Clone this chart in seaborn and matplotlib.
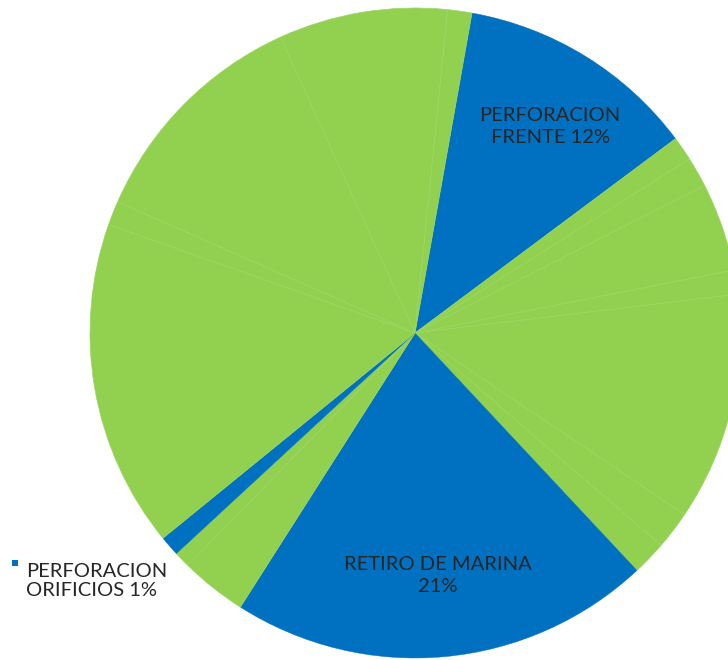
import numpy as np
import matplotlib
matplotlib.use("Agg")
import matplotlib.pyplot as plt
import seaborn as sns

# Share of each activity in the cycle (percent), clockwise from the top
activities = [
    "PERFORACION FRENTE", "g1", "g2", "g3", "g4", "g5", "g6", "g7",
    "RETIRO DE MARINA", "g8", "g9", "PERFORACION ORIFICIOS",
    "g10", "g11", "g12", "g13", "g14",
]
shares = [12, 1.2, 1.5, 4.4, 1.2, 11.35, 1.9, 1.7,
          21, 3.3, 0.8, 1,
          16.3, 1.2, 11.6, 8.4, 1.2]
highlighted = ["PERFORACION FRENTE", "RETIRO DE MARINA", "PERFORACION ORIFICIOS"]

BLUE = "#0070C0"
GREEN = "#92D050"
TEXT = "#262626"

sns.set_theme(style="white")
plt.rcParams["font.family"] = ["Lato", "DejaVu Sans"]

fig = plt.figure(figsize=(7.28, 6.6), dpi=100)
ax = fig.add_axes([0, 0, 1, 1])

colors = [BLUE if a in highlighted else GREEN for a in activities]
wedges, _ = ax.pie(
    shares, colors=colors, startangle=79.9, counterclock=False,
    radius=1.0, wedgeprops=dict(edgecolor="#9cd660", linewidth=0.5),
)
for w, a in zip(wedges, activities):
    if a in highlighted:
        w.set_edgecolor(BLUE)
        w.set_linewidth(0.3)

ax.set_xlim(-415 / 325, (728 - 415) / 325)
ax.set_ylim(-(660 - 333) / 325, 333 / 325)
ax.set_aspect("equal", adjustable="datalim")
ax.axis("off")

total = sum(shares)


def mid_point(idx, r, shift=0.0):
    w = wedges[idx]
    ang = np.deg2rad((w.theta1 + w.theta2) / 2 + shift)
    return r * np.cos(ang), r * np.sin(ang)


i_frente = activities.index("PERFORACION FRENTE")
x, y = mid_point(i_frente, 0.76, shift=-1.5)
ax.text(x, y, f"PERFORACION\nFRENTE {round(shares[i_frente] / total * 100)}%",
        ha="center", va="center", fontsize=14.5, color=TEXT, linespacing=1.35)

i_marina = activities.index("RETIRO DE MARINA")
x, y = mid_point(i_marina, 0.75)
ax.text(x, y, f"RETIRO DE MARINA\n{round(shares[i_marina] / total * 100)}%",
        ha="center", va="center", fontsize=14.5, color=TEXT, linespacing=1.35)

i_orif = activities.index("PERFORACION ORIFICIOS")
ax.text(26 / 728, 1 - 581 / 660,
        f"PERFORACION\nORIFICIOS {round(shares[i_orif] / total * 100)}%",
        transform=ax.transAxes, ha="left", va="center", fontsize=14.5,
        color=TEXT, linespacing=1.15)
ax.scatter([15 / 728], [1 - 563 / 660], transform=ax.transAxes,
           marker="s", s=22, color=BLUE, linewidths=0, clip_on=False)

fig.savefig("out.png", dpi=100)
